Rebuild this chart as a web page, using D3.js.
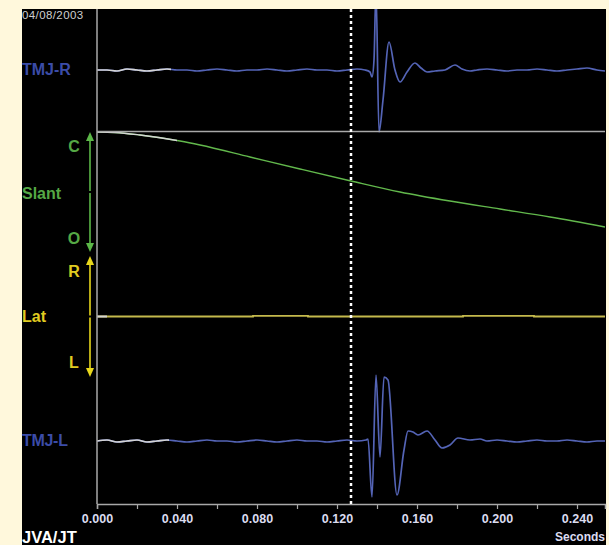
<!DOCTYPE html>
<html>
<head>
<meta charset="utf-8">
<script src="https://cdn.jsdelivr.net/npm/d3@7"></script>
<style>
  body { margin: 0; background: #fff8dc; }
  svg { display: block; font-family: "Liberation Sans", Arial, sans-serif; }
</style>
</head>
<body>
<div id="viz"></div>
<script>
// ---- data (time in seconds) ----
var recordDate = "04/08/2003";
var cursorTime = 0.127;
var tickValues = [0, 0.02, 0.04, 0.06, 0.08, 0.10, 0.12, 0.14, 0.16, 0.18, 0.20, 0.22, 0.24];
var tickLabels = ["0.000", "", "0.040", "", "0.080", "", "0.120", "", "0.160", "", "0.200", "", "0.240"];

// TMJ-R vibration (arbitrary units)
var tmjRTime = [0, .005, .010, .015, .020, .025, .030, .035, .040, .045, .050, .055, .060, .065, .070, .075, .080, .085, .090, .095, .100, .105, .110, .115, .120, .125, .130, .134, .1365, .1375, .1385, .1395, .141, .143, .146, .149, .1515, .155, .159, .162, .165, .169, .174, .179, .1825, .1865, .190, .195, .200, .205, .210, .215, .220, .225, .230, .235, .240, .245, .250, .254];
var tmjRValue = [0, 0, -1, 1, 0, -1, 0, 1, 0, 0, -1, 0, 1, 0, -1, 0, 0, 1, 0, -1, 0, 1, 0, 0, -1, 0, 1, 0, -2, -7, 10, 80, -62, -30, 28, 0, -12, -2, 7, 2, -2, -1, 0, 5, 1, -1, 0, 1, 0, -1, 0, 0, 1, 0, -1, 0, 1, 2, 0, -1];

// TMJ-L vibration (arbitrary units)
var tmjLTime = [0, .005, .010, .015, .020, .025, .030, .035, .040, .045, .050, .055, .060, .065, .070, .075, .080, .085, .090, .095, .100, .105, .110, .115, .120, .125, .130, .1345, .1355, .1375, .1395, .1415, .1435, .1455, .150, .1535, .1555, .158, .1605, .165, .169, .1725, .1765, .1805, .1865, .1915, .195, .200, .205, .210, .215, .220, .225, .230, .235, .240, .245, .250, .254];
var tmjLValue = [0, 1, -1, 0, 1, -1, 0, 1, 0, -1, 0, 1, 0, 0, -1, 0, 1, 0, -1, 0, 1, 0, 0, -1, 0, 1, 0, 1, 2, -56, 66, -16, 64, 61, -54, -9, 10, 9, 6, 10, 1, -7, -4, 3, 1, 2, 0, 1, 0, -1, 0, 1, 0, 0, 1, 0, -1, 0, 0];

// Slant position (100 = closed, 0 = open)
var slantTime = [0, .009, .0215, .0415, .0515, .0765, .1015, .127, .1515, .1765, .2015, .2265, .254];
var slantValue = [99.2, 98.8, 96.7, 91.7, 88.4, 78.5, 68.6, 58.7, 49.6, 42.1, 35.5, 28.9, 20.7];

// Lateral position (+ = right, - = left)
var latTime = [0, .0775, .078, .105, .1055, .1825, .183, .218, .2185, .254];
var latValue = [0, 0, 0.6, 0.6, 0, 0, 0.6, 0.6, 0, 0];

// ---- layout ----
var width = 609, height = 545;
var plotLeft = 97, plotRight = 605, plotTop = 9, axisY = 504;

var svg = d3.select("#viz").append("svg")
    .attr("width", width)
    .attr("height", height);

svg.append("rect")
    .attr("x", 22).attr("y", 9)
    .attr("width", 584).attr("height", 536)
    .attr("fill", "#000");

var x = d3.scaleLinear().domain([0, 0.254]).range([plotLeft, plotRight]);

var panels = [
  {id: "r", y0: 9, y1: 131, domain: [-61, 61], time: tmjRTime, value: tmjRValue, color: "#5464b6", hi: 0.037, curve: d3.curveMonotoneX, width: 1.7},
  {id: "s", y0: 131, y1: 252, domain: [0, 100], time: slantTime, value: slantValue, color: "#62b84c", hi: 0.040, curve: d3.curveMonotoneX, width: 1.4},
  {id: "lat", y0: 256, y1: 377, domain: [-60, 60], time: latTime, value: latValue, color: "#c4b94c", hi: 0.005, curve: d3.curveStepAfter, width: 1.8},
  {id: "l", y0: 378, y1: 504, domain: [-63, 63], time: tmjLTime, value: tmjLValue, color: "#5464b6", hi: 0.036, curve: d3.curveMonotoneX, width: 1.7}
];

panels.forEach(function(p) {
  var y = d3.scaleLinear().domain(p.domain).range([p.y1, p.y0]);
  var pts = p.time.map(function(t, i) { return [t, p.value[i]]; });
  var line = d3.line()
      .x(function(d) { return x(d[0]); })
      .y(function(d) { return y(d[1]); })
      .curve(p.curve);

  var clipTop = p.id === "r" ? plotTop : p.y0 - 6;
  svg.append("clipPath").attr("id", "clip-" + p.id)
    .append("rect")
      .attr("x", plotLeft).attr("y", clipTop)
      .attr("width", plotRight - plotLeft).attr("height", axisY - clipTop);
  svg.append("clipPath").attr("id", "hi-" + p.id)
    .append("rect")
      .attr("x", plotLeft).attr("y", 0)
      .attr("width", x(p.hi) - plotLeft).attr("height", height);

  var g = svg.append("g").attr("clip-path", "url(#clip-" + p.id + ")");
  g.append("path")
      .datum(pts)
      .attr("d", line)
      .attr("fill", "none")
      .attr("stroke", p.color)
      .attr("stroke-width", p.width);
  g.append("g").attr("clip-path", "url(#hi-" + p.id + ")")
    .append("path")
      .datum(pts)
      .attr("d", line)
      .attr("fill", "none")
      .attr("stroke", "#d4d4d4")
      .attr("stroke-width", p.width);
});

// frame lines
svg.append("line")
    .attr("x1", plotLeft).attr("x2", plotLeft)
    .attr("y1", plotTop).attr("y2", axisY)
    .attr("stroke", "#a8a8a8").attr("stroke-width", 1.5);
svg.append("line")
    .attr("x1", plotLeft).attr("x2", plotRight)
    .attr("y1", 131.5).attr("y2", 131.5)
    .attr("stroke", "#a8a8a8").attr("stroke-width", 1.5);

// x axis
var xAxis = d3.axisBottom(x)
    .tickValues(tickValues)
    .tickFormat(function(d, i) { return tickLabels[i]; })
    .tickSize(5)
    .tickPadding(5);
var ax = svg.append("g")
    .attr("transform", "translate(0," + axisY + ")")
    .call(xAxis);
ax.select(".domain").attr("stroke", "#a8a8a8").attr("stroke-width", 1.5);
ax.selectAll(".tick line").attr("stroke", "#a8a8a8").attr("stroke-width", 1.2);
ax.selectAll(".tick text")
    .attr("fill", "#dcdcf0")
    .attr("font-size", 12.5)
    .attr("font-weight", "bold")
    .attr("font-family", "'Liberation Sans', Arial, sans-serif");

// cursor
svg.append("line")
    .attr("x1", x(cursorTime)).attr("x2", x(cursorTime))
    .attr("y1", plotTop).attr("y2", axisY)
    .attr("stroke", "#ffffff")
    .attr("stroke-width", 2.5)
    .attr("stroke-dasharray", "3,3");

// double arrows on the left
function doubleArrow(xc, yTop, yBot, color) {
  var g = svg.append("g");
  g.append("line")
      .attr("x1", xc).attr("x2", xc)
      .attr("y1", yTop + 6).attr("y2", yBot - 6)
      .attr("stroke", color).attr("stroke-width", 1.6);
  g.append("path")
      .attr("d", "M" + xc + "," + yTop + "L" + (xc - 4) + "," + (yTop + 9) + "L" + (xc + 4) + "," + (yTop + 9) + "Z")
      .attr("fill", color);
  g.append("path")
      .attr("d", "M" + xc + "," + yBot + "L" + (xc - 4) + "," + (yBot - 9) + "L" + (xc + 4) + "," + (yBot - 9) + "Z")
      .attr("fill", color);
  g.append("rect")
      .attr("x", xc - 2).attr("y", (yTop + yBot) / 2 - 1)
      .attr("width", 4).attr("height", 2)
      .attr("fill", "#000");
}
doubleArrow(90, 132, 252, "#5cb848");
doubleArrow(90, 256, 377, "#e8d81c");

// labels
var labels = [
  {text: recordDate, x: 22, y: 19, size: 11.5, color: "#cfcfcf", weight: "normal", anchor: "start", ls: 0.4},
  {text: "TMJ-R", x: 22, y: 75, size: 16, color: "#3b4ca8", weight: "bold", anchor: "start", ls: 0},
  {text: "C", x: 74, y: 152, size: 16, color: "#55a845", weight: "bold", anchor: "middle", ls: 0},
  {text: "Slant", x: 22, y: 198.5, size: 16, color: "#55a845", weight: "bold", anchor: "start", ls: 0},
  {text: "O", x: 74, y: 244, size: 16, color: "#55a845", weight: "bold", anchor: "middle", ls: 0},
  {text: "R", x: 74, y: 276.5, size: 16, color: "#e0cc20", weight: "bold", anchor: "middle", ls: 0},
  {text: "Lat", x: 22, y: 322, size: 16, color: "#e0cc20", weight: "bold", anchor: "start", ls: 0},
  {text: "L", x: 74, y: 367.5, size: 16, color: "#e0cc20", weight: "bold", anchor: "middle", ls: 0},
  {text: "TMJ-L", x: 22, y: 446, size: 16, color: "#3b4ca8", weight: "bold", anchor: "start", ls: -0.3},
  {text: "JVA/JT", x: 22, y: 543, size: 16.5, color: "#ffffff", weight: "bold", anchor: "start", ls: 0},
  {text: "Seconds", x: 605, y: 541, size: 12, color: "#dcdcf0", weight: "bold", anchor: "end", ls: 0}
];
svg.selectAll("text.lbl")
    .data(labels)
  .enter().append("text")
    .attr("class", "lbl")
    .attr("x", function(d) { return d.x; })
    .attr("y", function(d) { return d.y; })
    .attr("font-size", function(d) { return d.size; })
    .attr("font-weight", function(d) { return d.weight; })
    .attr("letter-spacing", function(d) { return d.ls; })
    .attr("fill", function(d) { return d.color; })
    .attr("text-anchor", function(d) { return d.anchor; })
    .text(function(d) { return d.text; });
</script>
</body>
</html>
